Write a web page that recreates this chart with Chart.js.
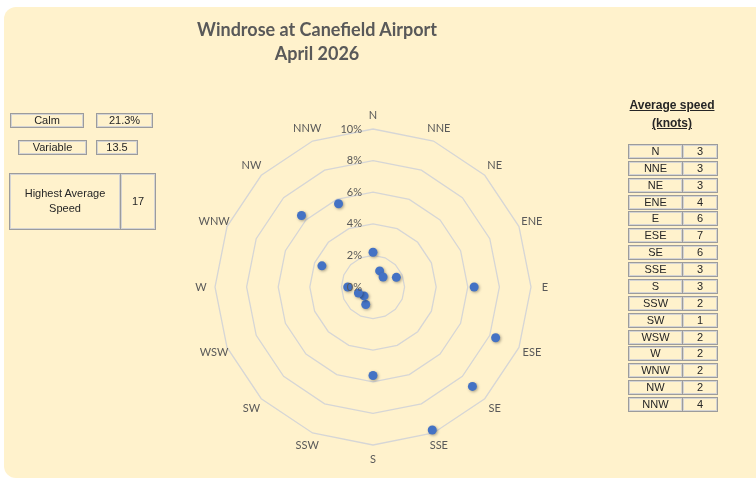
<!DOCTYPE html>
<html lang="en">
<head>
    <meta charset="UTF-8">
    <title>Windrose at Canefield Airport</title>
    <script src="https://cdn.jsdelivr.net/npm/chart.js"></script>
    <style>
        body { margin: 0; background: #fff; width: 756px; height: 481px; overflow: hidden; position: relative; }
        #panel { position: absolute; left: 4px; top: 7px; width: 770px; height: 471px; background: #fff2cc; border-radius: 12px; }
        #rose { position: absolute; left: 0; top: 0; }
        #title { position: absolute; left: 117px; top: 17px; width: 400px; text-align: center;
                 font: bold 18px Lato, sans-serif; line-height: 24px; color: #595959; }
        .box { position: absolute; box-sizing: border-box; border: 1px solid #9c9c9c; box-shadow: inset 0 0 0 1px #d4d4d4;
               font: 11px "Liberation Sans", Arial, sans-serif; color: #262626; text-align: center; }
        #speedHead { position: absolute; left: 612px; top: 96px; width: 120px; text-align: center;
                     font: bold 12px "Liberation Sans", Arial, sans-serif; line-height: 18px; color: #262626; text-decoration: underline; }
    </style>
</head>
<body>
    <div id="panel"></div>
    <canvas id="rose" width="756" height="481"></canvas>
    <div id="title">Windrose at Canefield Airport<br>April 2026</div>
    <div id="side"></div>
    <div id="speedHead">Average speed<br>(knots)</div>
    <script>
        // Data
        const directions = ['N', 'NNE', 'NE', 'ENE', 'E', 'ESE', 'SE', 'SSE', 'S', 'SSW', 'SW', 'WSW', 'W', 'WNW', 'NW', 'NNW'];
        const frequency = [2.2, 1.1, 0.9, 1.6, 6.4, 8.4, 8.9, 9.8, 5.6, 1.2, 0.8, 1.0, 1.6, 3.5, 6.4, 5.7]; // percent
        const avgSpeed = [3, 3, 3, 4, 6, 7, 6, 3, 3, 2, 1, 2, 2, 2, 2, 4]; // knots
        const calm = '21.3%';
        const variable = '13.5';
        const highestSpeed = '17';

        // side boxes (html cells like the sheet)
        const side = document.getElementById('side');
        function cell(left, top, w, h, html, extra) {
            const d = document.createElement('div');
            d.className = 'box';
            d.style.cssText = `left:${left}px;top:${top}px;width:${w}px;height:${h}px;line-height:${h - 2}px;` + (extra || '');
            d.innerHTML = html;
            side.appendChild(d);
        }
        cell(10, 113, 74, 15, 'Calm');
        cell(96, 113, 57, 15, calm);
        cell(18, 140, 69, 15, 'Variable');
        cell(96, 140, 42, 15, variable);
        cell(9, 173, 112, 57, 'Highest Average<br>Speed', 'line-height:15px;padding-top:12px;');
        cell(120, 173, 36, 57, highestSpeed);

        directions.forEach((d, i) => {
            const top = Math.round(144 + i * 16.87);
            cell(628, top, 55, 15, d);
            cell(682, top, 36, 15, avgSpeed[i]);
        });

        // labels drawn with the radial scale positions
        const roseLabels = {
            id: 'roseLabels',
            afterDraw(chart) {
                const r = chart.scales.r;
                const ctx = chart.ctx;
                ctx.save();
                ctx.font = '11px Lato, sans-serif';
                ctx.fillStyle = '#595959';
                ctx.textAlign = 'center';
                ctx.textBaseline = 'middle';
                directions.forEach((d, i) => {
                    const p = r.getPointPosition(i, r.drawingArea + 14);
                    ctx.fillText(d, p.x, p.y);
                });
                ctx.textAlign = 'right';
                r.ticks.forEach(t => {
                    const y = r.yCenter - r.getDistanceFromCenterForValue(t.value);
                    ctx.fillText(t.value + '%', r.xCenter - 11, y);
                });
                ctx.restore();
            }
        };

        const dotShadow = {
            id: 'dotShadow',
            beforeDatasetsDraw(chart) {
                const ctx = chart.ctx;
                ctx.save();
                ctx.shadowColor = 'rgba(0,0,0,0.35)';
                ctx.shadowBlur = 3;
                ctx.shadowOffsetX = 1;
                ctx.shadowOffsetY = 1;
            },
            afterDatasetsDraw(chart) {
                chart.ctx.restore();
            }
        };

        new Chart(document.getElementById('rose').getContext('2d'), {
            type: 'radar',
            data: {
                labels: directions,
                datasets: [{
                    data: frequency,
                    showLine: false,
                    fill: false,
                    backgroundColor: 'transparent',
                    borderColor: 'transparent',
                    borderWidth: 0,
                    pointRadius: 4.5,
                    pointHoverRadius: 4.5,
                    pointBorderWidth: 0,
                    pointBackgroundColor: '#4472c4'
                }]
            },
            options: {
                responsive: false,
                animation: false,
                layout: { padding: { left: 215, right: 225, top: 129, bottom: 36 } },
                plugins: { legend: { display: false }, tooltip: { enabled: false } },
                scales: {
                    r: {
                        min: 0,
                        max: 10,
                        ticks: { display: false, stepSize: 2 },
                        grid: { color: '#d6d6d6', lineWidth: 1.3 },
                        angleLines: { display: false },
                        pointLabels: { display: false }
                    }
                }
            },
            plugins: [roseLabels, dotShadow]
        });
    </script>
</body>
</html>
